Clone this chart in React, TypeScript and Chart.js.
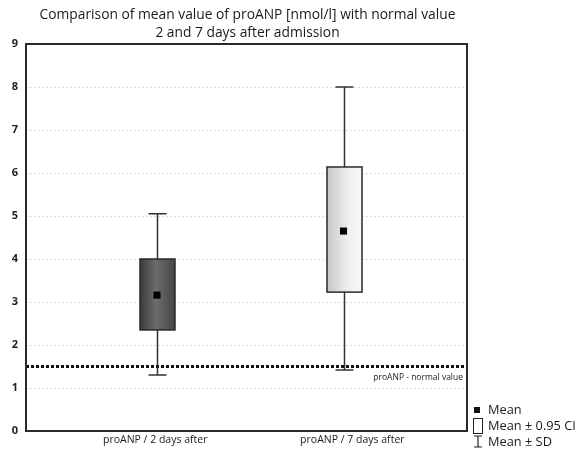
import React, { useEffect, useRef } from "react";
import { Chart, registerables } from "chart.js";
Chart.register(...registerables);

const categories = ["proANP / 2 days after", "proANP / 7 days after"];
const means = [3.16, 4.65];
const ciLow = [2.35, 3.23];
const ciHigh = [4.0, 6.14];
const sdLow = [1.3, 1.42];
const sdHigh = [5.05, 8.0];
const normalValue = 1.5;
const normalLabel = "proANP - normal value";
const titleLines = [
  "Comparison of mean value of proANP [nmol/l] with normal value",
  "2 and 7 days after admission",
];
const legendLabels = ["Mean", "Mean \u00b1 0.95 CI", "Mean \u00b1 SD"];

// layout (not data)
const BOX_POS = [0.297, 0.72];
const LABEL_POS = [0.293, 0.74];
const FONT = "'Open Sans', 'DejaVu Sans', sans-serif";

const boxPlugin = {
  id: "boxPlugin",
  beforeDatasetsDraw(chart: any) {
    const { ctx, chartArea } = chart;
    const xs = chart.scales.x;
    const ys = chart.scales.y;
    ctx.save();
    for (let i = 0; i < means.length; i++) {
      const x = Math.round(xs.getPixelForValue(BOX_POS[i])) + 0.5;
      ctx.strokeStyle = "#333";
      ctx.lineWidth = 1.5;
      ctx.beginPath();
      const yt = ys.getPixelForValue(sdHigh[i]);
      const yb = ys.getPixelForValue(sdLow[i]);
      ctx.moveTo(x, yt);
      ctx.lineTo(x, yb);
      ctx.moveTo(x - 9, yt);
      ctx.lineTo(x + 9, yt);
      ctx.moveTo(x - 9, yb);
      ctx.lineTo(x + 9, yb);
      ctx.stroke();
      const bt = ys.getPixelForValue(ciHigh[i]);
      const bb = ys.getPixelForValue(ciLow[i]);
      const l = x - 17.5;
      const r = x + 17.5;
      const g = ctx.createLinearGradient(l, 0, r, 0);
      if (i === 0) {
        g.addColorStop(0, "#3a3a3a");
        g.addColorStop(0.45, "#6c6c6c");
        g.addColorStop(1, "#474747");
      } else {
        g.addColorStop(0, "#c6c6c6");
        g.addColorStop(0.6, "#eeeeee");
        g.addColorStop(1, "#f9f9f9");
      }
      ctx.fillStyle = g;
      ctx.fillRect(l, bt, r - l, bb - bt);
      ctx.strokeStyle = "#2a2a2a";
      ctx.lineWidth = 1.5;
      ctx.strokeRect(l, bt, r - l, bb - bt);
    }
    const yn = ys.getPixelForValue(normalValue);
    ctx.strokeStyle = "#111";
    ctx.lineWidth = 3;
    ctx.setLineDash([3, 2]);
    ctx.beginPath();
    ctx.moveTo(chartArea.left, yn);
    ctx.lineTo(chartArea.right, yn);
    ctx.stroke();
    ctx.setLineDash([]);
    ctx.fillStyle = "#222";
    ctx.font = "8.5px " + FONT;
    ctx.textAlign = "right";
    ctx.textBaseline = "middle";
    ctx.fillText(normalLabel, chartArea.right - 4, yn + 11);
    ctx.restore();
  },
  afterDraw(chart: any) {
    const { ctx, chartArea } = chart;
    ctx.save();
    ctx.strokeStyle = "#2a2a2a";
    ctx.lineWidth = 2;
    ctx.strokeRect(chartArea.left, chartArea.top, chartArea.right - chartArea.left, chartArea.bottom - chartArea.top);
    ctx.fillStyle = "#1a1a1a";
    ctx.font = "13.8px " + FONT;
    ctx.textAlign = "center";
    ctx.textBaseline = "middle";
    const cx = (chartArea.left + chartArea.right) / 2 + 1;
    ctx.fillText(titleLines[0], cx, 15);
    ctx.fillText(titleLines[1], cx, 33);
    const lx = chartArea.right + 6;
    const tx = chartArea.right + 21;
    ctx.fillStyle = "#111";
    ctx.fillRect(lx + 1, 407, 6, 6);
    ctx.strokeStyle = "#222";
    ctx.lineWidth = 1;
    ctx.fillStyle = "#fff";
    ctx.fillRect(lx + 0.5, 418.5, 9, 15);
    ctx.strokeRect(lx + 0.5, 418.5, 9, 15);
    ctx.lineWidth = 1.2;
    ctx.beginPath();
    ctx.moveTo(lx + 5, 436);
    ctx.lineTo(lx + 5, 447);
    ctx.moveTo(lx + 1, 436);
    ctx.lineTo(lx + 9, 436);
    ctx.moveTo(lx + 1, 447);
    ctx.lineTo(lx + 9, 447);
    ctx.stroke();
    ctx.fillStyle = "#1a1a1a";
    ctx.font = "12.8px " + FONT;
    ctx.textAlign = "left";
    ctx.fillText(legendLabels[0], tx, 410);
    ctx.fillText(legendLabels[1], tx, 426);
    ctx.fillText(legendLabels[2], tx, 442);
    ctx.restore();
  },
};

export default function App() {
  const ref = useRef<HTMLCanvasElement | null>(null);
  useEffect(() => {
    if (!ref.current) return;
    const chart = new Chart(ref.current, {
      type: "scatter",
      data: {
        datasets: [
          {
            label: legendLabels[0],
            data: means.map((m, i) => ({ x: BOX_POS[i], y: m })),
            pointStyle: "rect",
            pointRadius: 5,
            backgroundColor: "#000",
            borderColor: "#000",
            borderWidth: 0,
          },
        ],
      },
      options: {
        animation: false,
        responsive: true,
        maintainAspectRatio: false,
        layout: { padding: { top: 44, right: 109, left: 0, bottom: 0 } },
        plugins: { legend: { display: false }, tooltip: { enabled: false }, title: { display: false } },
        scales: {
          x: {
            type: "linear",
            min: 0,
            max: 1,
            afterBuildTicks: (scale: any) => {
              scale.ticks = LABEL_POS.map((v) => ({ value: v }));
            },
            afterFit: (scale: any) => {
              scale.height = 23;
            },
            ticks: {
              autoSkip: false,
              maxRotation: 0,
              padding: 3,
              color: "#1a1a1a",
              font: { family: FONT, size: 10.5 },
              callback: (_v: any, i: number) => categories[i],
            },
            grid: { display: false, drawTicks: false },
            border: { display: false },
          },
          y: {
            min: 0,
            max: 9,
            afterFit: (scale: any) => {
              scale.width = 26;
            },
            ticks: {
              stepSize: 1,
              padding: 8,
              color: "#222",
              font: { family: FONT, size: 11, weight: "bold" },
            },
            grid: { color: "#dcdcdc", lineWidth: 1, drawTicks: false },
            border: { display: false, dash: [2, 2] },
          },
        },
      },
      plugins: [boxPlugin],
    } as any);
    return () => chart.destroy();
  }, []);
  return (
    <div style={{ position: "absolute", left: 0, top: 0, width: 576, height: 454, background: "#fff" }}>
      <canvas ref={ref} />
    </div>
  );
}
